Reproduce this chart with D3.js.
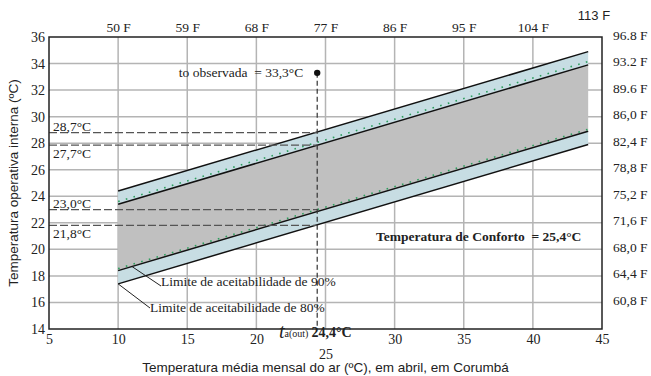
<!DOCTYPE html>
<html><head><meta charset="utf-8">
<script src="https://cdn.jsdelivr.net/npm/d3@7"></script>
<style>
body{margin:0;background:#fff;}
svg{display:block;}
text{font-family:"Liberation Serif","Times New Roman",serif;fill:#222;}
.sans{font-family:"Liberation Sans",Arial,sans-serif;}
.pre{white-space:pre;}
</style></head>
<body>
<svg id="c" width="651" height="376"></svg>
<script>
// ---- data ----
const xTicks = [5,10,15,20,25,30,35,40,45];
const yTicks = [14,16,18,20,22,24,26,28,30,32,34,36];
const topTicks = [10,15,20,25,30,35,40];
const topLabels = ["50 F","59 F","68 F","77 F","86 F","95 F","104 F"];
const extraTopLabel = "113 F";
const rightTicks = [36,34,32,30,28,26,24,22,20,18,16];
const rightLabels = ["96.8 F","93.2 F","89.6 F","86,0 F","82,4 F","78,8 F","75,2 F","71,6 F","68,0 F","64,4 F","60,8 F"];
const tOut = [10, 44];
const upper80 = [24.4, 34.9];
const upper90 = [23.4, 33.9];
const lower90 = [18.4, 28.9];
const lower80 = [17.4, 27.9];
const dotUpper = [23.6, 34.15];
const dotLower = [18.55, 29.05];
const refLevels = [28.8, 27.85, 23.0, 21.8];
const refLabels = ["28,7°C","27,7°C","23,0°C","21,8°C"];
const refLabelAbove = [true,false,true,false];
const obsT = 24.4, obsTo = 33.3;

// ---- chart ----
(function(){
const svg = d3.select("#c");
const x = d3.scaleLinear().domain([5,45]).range([49,602]);
const y = d3.scaleLinear().domain([14,36]).range([329,37]);

const grid = svg.append("g").attr("stroke","#b4b4b4").attr("stroke-width",1.5);
grid.selectAll(".v").data(xTicks.slice(1,-1)).join("line").attr("class","v")
  .attr("x1",d=>x(d)).attr("x2",d=>x(d)).attr("y1",y(14)).attr("y2",y(36));
grid.selectAll(".h").data(yTicks.slice(1,-1)).join("line").attr("class","h")
  .attr("y1",d=>y(d)).attr("y2",d=>y(d)).attr("x1",x(5)).attr("x2",x(45));

const pts = arr => tOut.map((t,i)=>({t, v:arr[i]}));
const band = (a,b) => tOut.map((t,i)=>({t, lo:a[i], hi:b[i]}));
const area = d3.area().x(d=>x(d.t)).y0(d=>y(d.lo)).y1(d=>y(d.hi));
svg.append("path").datum(band(lower90,upper90)).attr("d",area).attr("fill","#c0c0c0");
svg.append("path").datum(band(upper90,upper80)).attr("d",area).attr("fill","#c7dde3");
svg.append("path").datum(band(lower80,lower90)).attr("d",area).attr("fill","#c7dde3");

const line = d3.line().x(d=>x(d.t)).y(d=>y(d.v));
[upper80,upper90,lower90,lower80].forEach(a=>{
  svg.append("path").datum(pts(a)).attr("d",line).attr("fill","none")
    .attr("stroke","#111").attr("stroke-width",1.5);
});
[dotUpper,dotLower].forEach(a=>{
  svg.append("path").datum(pts(a)).attr("d",line).attr("fill","none")
    .attr("stroke","#2e9e5e").attr("stroke-width",1.6).attr("stroke-dasharray","1.6 6.4");
});

refLevels.forEach((v,i)=>{
  svg.append("line").attr("x1",x(5)).attr("x2",x(obsT)).attr("y1",y(v)).attr("y2",y(v))
    .attr("stroke","#555").attr("stroke-width",1.2).attr("stroke-dasharray","8 3");
  svg.append("text").attr("x",x(5)+4).attr("y",refLabelAbove[i]? y(v)-2 : y(v)+13)
    .attr("font-size",13.5).text(refLabels[i]);
});
svg.append("line").attr("x1",x(obsT)).attr("x2",x(obsT)).attr("y1",y(obsTo)).attr("y2",y(14))
  .attr("stroke","#333").attr("stroke-width",1.2).attr("stroke-dasharray","5 3");
svg.append("circle").attr("cx",x(obsT)).attr("cy",y(obsTo)).attr("r",3.2).attr("fill","#111");
svg.append("text").attr("class","pre").attr("x",x(obsT)-14).attr("y",y(obsTo)+4).attr("text-anchor","end")
  .attr("font-size",13.5).text("to observada  = 33,3°C");

svg.append("rect").attr("x",x(5)).attr("y",y(36)).attr("width",x(45)-x(5)).attr("height",y(14)-y(36))
  .attr("fill","none").attr("stroke","#222").attr("stroke-width",1.5);

const gB = svg.append("g").attr("transform",`translate(0,${y(14)})`)
  .call(d3.axisBottom(x).tickValues(xTicks).tickSize(0).tickPadding(5).tickFormat(d3.format("d")));
gB.select(".domain").remove();
gB.selectAll("text").attr("font-size",14).attr("font-family","Liberation Serif").attr("fill","#222")
  .attr("dy", d=> d===25 ? "1.75em" : "0.71em");

const gL = svg.append("g").attr("transform",`translate(${x(5)},0)`)
  .call(d3.axisLeft(y).tickValues(yTicks).tickSize(0).tickPadding(4).tickFormat(d3.format("d")));
gL.select(".domain").remove();
gL.selectAll("text").attr("font-size",14).attr("font-family","Liberation Serif").attr("fill","#222");

const gT = svg.append("g").attr("transform",`translate(0,${y(36)})`)
  .call(d3.axisTop(x).tickValues(topTicks).tickSize(0).tickPadding(5).tickFormat((d,i)=>topLabels[i]));
gT.select(".domain").remove();
gT.selectAll("text").attr("font-size",13.5).attr("font-family","Liberation Serif").attr("fill","#222");
svg.append("text").attr("class","sans").attr("x",x(45)-8).attr("y",20).attr("text-anchor","middle")
  .attr("font-size",13).text(extraTopLabel);

const gR = svg.append("g").attr("transform",`translate(${x(45)},0)`)
  .call(d3.axisRight(y).tickValues(rightTicks).tickSize(0).tickPadding(11).tickFormat((d,i)=>rightLabels[i]));
gR.select(".domain").remove();
gR.selectAll("text").attr("font-size",13.5).attr("font-family","Liberation Serif").attr("fill","#222").attr("dy","0.15em");

svg.append("text").attr("class","pre").attr("x",x(28.65)).attr("y",y(20.6)).attr("font-size",13.5).attr("font-weight","bold")
  .text("Temperatura de Conforto  = 25,4°C");

const l90v = lower90[0] + (lower90[1]-lower90[0])*(11-tOut[0])/(tOut[1]-tOut[0]);
svg.append("line").attr("x1",x(11)).attr("y1",y(l90v)).attr("x2",161).attr("y2",286).attr("stroke","#222").attr("stroke-width",1);
svg.append("text").attr("x",161).attr("y",286).attr("font-size",13.5).text("Limite de aceitabilidade de 90%");
svg.append("line").attr("x1",x(tOut[0])).attr("y1",y(lower80[0])).attr("x2",150).attr("y2",308).attr("stroke","#222").attr("stroke-width",1);
svg.append("text").attr("x",150).attr("y",312).attr("font-size",13.5).text("Limite de aceitabilidade de 80%");

const ta = svg.append("text").attr("x",279).attr("y",338);
ta.append("tspan").attr("font-size",20).attr("font-style","italic").text("t");
ta.append("tspan").attr("font-size",10).attr("dy",-1).text("a(out)");
ta.append("tspan").attr("font-size",14).attr("font-weight","bold").attr("dx",3).text("24,4°C");

svg.append("text").attr("class","sans").attr("x",(x(5)+x(45))/2).attr("y",372).attr("text-anchor","middle")
  .attr("font-size",13.5).text("Temperatura média mensal do ar (ºC), em abril, em Corumbá");
svg.append("text").attr("class","sans").attr("transform",`translate(18,${(y(14)+y(36))/2}) rotate(-90)`)
  .attr("text-anchor","middle").attr("font-size",13.5).text("Temperatura operativa interna (ºC)");
})();
</script>
</body></html>
